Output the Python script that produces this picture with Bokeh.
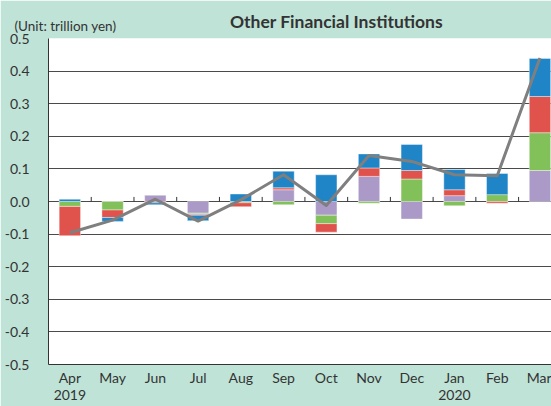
from bokeh.plotting import figure
from bokeh.models import ColumnDataSource, FixedTicker, NumeralTickFormatter, Label
from bokeh.embed import file_html
from bokeh.resources import INLINE

# ---- data (trillion yen) ----
months = ["Apr", "May", "Jun", "Jul", "Aug", "Sep", "Oct", "Nov", "Dec", "Jan", "Feb", "Mar"]
year_marks = {"Apr": "2019", "Jan": "2020"}

s_purple = [0.000, 0.000, 0.020, -0.036, 0.000, 0.036, -0.042, 0.077, -0.054, 0.018, 0.000, 0.095]
s_green = [-0.015, -0.026, 0.000, -0.003, -0.004, -0.010, -0.026, -0.005, 0.069, -0.013, 0.021, 0.116]
s_red = [-0.090, -0.023, -0.004, -0.003, -0.012, 0.006, -0.026, 0.026, 0.026, 0.018, -0.005, 0.111]
s_blue = [0.007, -0.012, -0.006, -0.017, 0.023, 0.051, 0.082, 0.043, 0.080, 0.062, 0.065, 0.117]
total = [-0.096, -0.057, 0.007, -0.060, 0.005, 0.082, -0.012, 0.141, 0.123, 0.082, 0.079, 0.440]

y_ticks = [-0.5, -0.4, -0.3, -0.2, -0.1, 0.0, 0.1, 0.2, 0.3, 0.4, 0.5]

series = [(s_purple, "#ab9ac7"), (s_green, "#82c05a"), (s_red, "#e0534d"), (s_blue, "#1f85c6")]

BG = "#bfe3d7"
TXT = "#333333"
FONT = "Lato"

x = list(range(len(months)))

p = figure(width=551, height=406, output_backend="svg", toolbar_location=None,
           x_range=(-0.5, 11.27), y_range=(-0.5, 0.5),
           min_border_left=48, min_border_right=0, min_border_top=38, min_border_bottom=42)
p.background_fill_color = "white"
p.border_fill_color = BG
p.outline_line_color = None

# stacked bars, positives and negatives stacked separately
pos_base = [0.0] * len(months)
neg_base = [0.0] * len(months)
for vals, col in series:
    bottoms, tops = [], []
    for i, v in enumerate(vals):
        if v >= 0:
            bottoms.append(pos_base[i]); tops.append(pos_base[i] + v); pos_base[i] += v
        else:
            bottoms.append(neg_base[i]); tops.append(neg_base[i] + v); neg_base[i] += v
    src = ColumnDataSource(dict(x=x, bottom=bottoms, top=tops))
    p.vbar(x="x", bottom="bottom", top="top", width=0.5, source=src,
           fill_color=col, line_color="white", line_alpha=0.5, line_width=0.8)

# category boundary ticks on the zero line
bx = [i + 0.5 for i in range(len(months) - 1)]
p.segment(x0=bx, x1=bx, y0=[0.0] * len(bx), y1=[0.014] * len(bx), line_color="#333333", line_width=1)

# total line
p.line(x, total, line_color="#7f7f7f", line_width=3, line_join="round")

# grid
p.xgrid.visible = False
p.ygrid.ticker = FixedTicker(ticks=y_ticks)
p.ygrid.grid_line_color = "#4a4a4a"
p.ygrid.grid_line_width = 1

# y axis
p.yaxis.ticker = FixedTicker(ticks=y_ticks)
p.yaxis.formatter = NumeralTickFormatter(format="0.0")
p.yaxis.major_tick_out = 0
p.yaxis.major_tick_in = 0
p.yaxis.minor_tick_line_color = None
p.yaxis.axis_line_color = "#333333"
p.yaxis.major_label_standoff = 19
p.yaxis.major_label_text_font = FONT
p.yaxis.major_label_text_font_size = "14px"
p.yaxis.major_label_text_color = TXT

# x axis (month with year underneath where the year starts)
p.xaxis.ticker = FixedTicker(ticks=x)
p.xaxis.major_label_overrides = {
    i: (m + "\n" + year_marks[m]) if m in year_marks else m for i, m in enumerate(months)
}
p.xaxis.major_tick_out = 0
p.xaxis.major_tick_in = 0
p.xaxis.minor_tick_line_color = None
p.xaxis.axis_line_color = "#333333"
p.xaxis.major_label_standoff = 4
p.xaxis.major_label_text_line_height = 1.0
p.xaxis.major_label_text_font = FONT
p.xaxis.major_label_text_font_size = "14px"
p.xaxis.major_label_text_color = TXT

# title and unit, placed in the band above the plot area
p.add_layout(Label(x=288, y=17, x_units="screen", y_units="screen",
                   text="Other Financial Institutions", text_align="center", text_baseline="middle",
                   text_font=FONT, text_font_size="17.5px", text_font_style="bold", text_color=TXT), "above")
p.add_layout(Label(x=-34, y=-8, x_units="screen", y_units="screen",
                   text="(Unit: trillion yen)", text_align="left", text_baseline="middle",
                   text_font=FONT, text_font_size="13.5px", text_color=TXT), "above")

open("out.html", "w").write(file_html(p, INLINE))
